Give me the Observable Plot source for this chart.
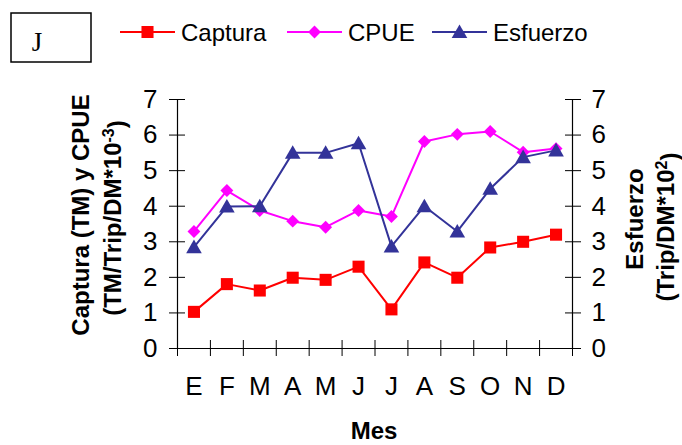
<!DOCTYPE html>
<html>
<head>
<meta charset="utf-8">
<script src="https://cdn.jsdelivr.net/npm/d3@7"></script>
<script src="https://cdn.jsdelivr.net/npm/@observablehq/plot@0.6"></script>
<style>
  html, body { margin: 0; padding: 0; background: #fff; }
  #chart svg { display: block; }
</style>
</head>
<body>
<div id="chart"></div>
<script>
// ---- data ----
const months = ["E", "F", "M", "A", "M", "J", "J", "A", "S", "O", "N", "D"];
const captura = [1.03, 1.81, 1.63, 1.99, 1.93, 2.30, 1.10, 2.42, 1.99, 2.84, 3.00, 3.20];
const cpue = [3.29, 4.44, 3.88, 3.58, 3.41, 3.88, 3.71, 5.82, 6.02, 6.10, 5.52, 5.62];
const esfuerzo = [2.85, 3.99, 4.00, 5.50, 5.50, 5.77, 2.87, 4.00, 3.29, 4.49, 5.38, 5.57];
const yTicks = [0, 1, 2, 3, 4, 5, 6, 7];
const seriesNames = ["Captura", "CPUE", "Esfuerzo"];
const panelLabel = "J";

// ---- styles ----
const colors = {Captura: "#FF0000", CPUE: "#FF00FF", Esfuerzo: "#333399"};
const symbols = {Captura: "square", CPUE: "diamond2", Esfuerzo: "triangle"};
const radii = {Captura: 6.8, CPUE: 5.8, Esfuerzo: 5.8};
const font = "'Liberation Sans', Arial, Helvetica, sans-serif";

const rows = months.map((m, i) => ({
  pos: i + 0.5, mes: m,
  Captura: captura[i], CPUE: cpue[i], Esfuerzo: esfuerzo[i]
}));
const edges = d3.range(months.length + 1);

const seriesMarks = seriesNames.flatMap(name => [
  Plot.line(rows, {x: "pos", y: name, stroke: colors[name], strokeWidth: 2}),
  Plot.dot(rows, {x: "pos", y: name, symbol: () => symbols[name], r: radii[name],
                  fill: colors[name], stroke: "none", dy: name === "Esfuerzo" ? 1.5 : 0})
]);

const svg = Plot.plot({
  width: 682,
  height: 445,
  marginLeft: 177,
  marginRight: 110,
  marginTop: 99,
  marginBottom: 97,
  style: {fontFamily: font, fontSize: "26px", color: "#000", background: "#fff", overflow: "visible"},
  x: {domain: [0, months.length], axis: null},
  y: {domain: [0, 7], axis: null},
  symbol: {type: "identity"},
  marks: [
    // axis lines
    Plot.ruleX([0, months.length], {stroke: "#000", strokeWidth: 1.2}),
    Plot.ruleY([0], {stroke: "#000", strokeWidth: 1.2}),
    // crossing ticks
    Plot.axisX(edges, {anchor: "bottom", tickSize: 16, dy: -8, fill: "none", label: null, stroke: "#000"}),
    Plot.axisY(yTicks, {anchor: "left", tickSize: 16, dx: 8, fill: "none", label: null, stroke: "#000"}),
    Plot.axisY(yTicks, {anchor: "right", tickSize: 16, dx: -8, fill: "none", label: null, stroke: "#000"}),
    // tick labels
    Plot.axisX(rows.map(d => d.pos), {anchor: "bottom", tickSize: 0, tickPadding: 28, label: null,
      tickFormat: v => months[Math.floor(v)], fill: "#000"}),
    Plot.axisY(yTicks, {anchor: "left", tickSize: 0, tickPadding: 20, label: null, fill: "#000"}),
    Plot.axisY(yTicks, {anchor: "right", tickSize: 0, tickPadding: 19, label: null, fill: "#000"}),
    ...seriesMarks
  ]
});
document.getElementById("chart").append(svg);

// ---- titles, legend and panel box ----
const s = d3.select(svg);
const sym = name => d3.symbol(
  {square: d3.symbolSquare, diamond2: d3.symbolDiamond2, triangle: d3.symbolTriangle}[symbols[name]],
  Math.PI * radii[name] * radii[name])();

// x title
s.append("text").attr("x", 374).attr("y", 439).attr("text-anchor", "middle")
  .attr("font-family", font).attr("font-size", 24).attr("font-weight", "bold").text("Mes");

// left titles
s.append("text").attr("transform", "translate(89,215) rotate(-90)").attr("text-anchor", "middle")
  .attr("font-family", font).attr("font-size", 24).attr("font-weight", "bold").text("Captura (TM) y CPUE");
const lt2 = s.append("text").attr("transform", "translate(121,218) rotate(-90)").attr("text-anchor", "middle")
  .attr("font-family", font).attr("font-size", 24).attr("font-weight", "bold");
lt2.append("tspan").text("(TM/Trip/DM*10");
lt2.append("tspan").attr("dy", "-0.45em").attr("font-size", 16).text("-3");
lt2.append("tspan").attr("dy", "0.45em").text(")");

// right titles
s.append("text").attr("transform", "translate(643,219) rotate(-90)").attr("text-anchor", "middle")
  .attr("font-family", font).attr("font-size", 24).attr("font-weight", "bold").text("Esfuerzo");
const rt2 = s.append("text").attr("transform", "translate(674,227) rotate(-90)").attr("text-anchor", "middle")
  .attr("font-family", font).attr("font-size", 24).attr("font-weight", "bold");
rt2.append("tspan").text("(Trip/DM*10");
rt2.append("tspan").attr("dy", "-0.45em").attr("font-size", 16).text("2");
rt2.append("tspan").attr("dy", "0.45em").text(")");

// panel box
s.append("rect").attr("x", 11).attr("y", 13).attr("width", 80).attr("height", 49)
  .attr("fill", "none").attr("stroke", "#000").attr("stroke-width", 1.5);
s.append("text").attr("x", 37).attr("y", 51).attr("text-anchor", "middle")
  .attr("font-family", "'Liberation Serif', 'Times New Roman', serif").attr("font-size", 27).text(panelLabel);

// legend
const legendX = [120, 287, 432];
seriesNames.forEach((name, i) => {
  const g = s.append("g").attr("transform", `translate(${legendX[i]},32)`);
  g.append("line").attr("x1", 0).attr("x2", 55).attr("y1", 0).attr("y2", 0)
    .attr("stroke", colors[name]).attr("stroke-width", 2);
  g.append("path").attr("d", sym(name)).attr("transform", `translate(27.5,${name === "Esfuerzo" ? 1.5 : 0})`)
    .attr("fill", colors[name]);
  g.append("text").attr("x", 61).attr("y", 0).attr("dy", "0.36em").attr("text-anchor", "start")
    .attr("font-family", font).attr("font-size", 24).text(name);
});
</script>
</body>
</html>
